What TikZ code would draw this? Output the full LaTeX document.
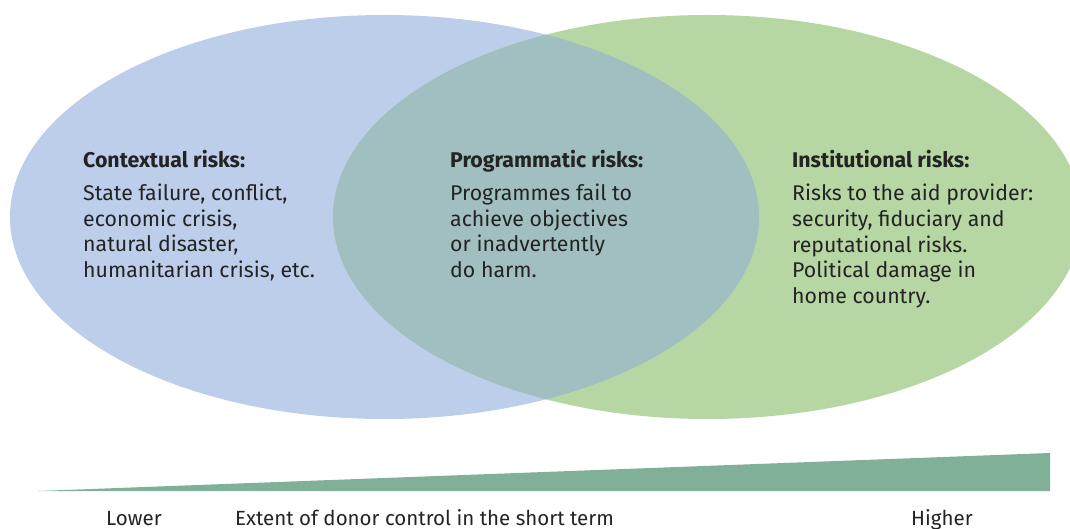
\documentclass[tikz,border=0pt]{standalone}
\usepackage{fontspec}
\setmainfont{Fira Sans}
\definecolor{blueE}{RGB}{189,206,234}
\definecolor{greenE}{RGB}{182,215,163}
\definecolor{overlapE}{RGB}{161,191,193}
\definecolor{wedgeC}{RGB}{128,176,152}
\definecolor{txt}{RGB}{35,35,35}
\tikzset{
  blocktext/.style={anchor=base west, inner sep=0pt, align=left, text=txt,
    font=\fontsize{21.3}{25.7}\selectfont},
  axislabel/.style={anchor=base west, inner sep=0pt, text=txt,
    font=\fontsize{20.5}{24}\selectfont}
}
\begin{document}
\begin{tikzpicture}[x=1pt,y=-1pt]
\useasboundingbox (0,0) rectangle (1070,529);
\clip (0,0) rectangle (1070,529);
% ellipses
\fill[blueE] (384.5,217) ellipse [x radius=374.5, y radius=202];
\fill[greenE] (707.5,217) ellipse [x radius=374.5, y radius=202];
\begin{scope}
  \clip (384.5,217) ellipse [x radius=374.5, y radius=202];
  \fill[overlapE] (707.5,217) ellipse [x radius=374.5, y radius=202];
\end{scope}
% texts
\node[blocktext] (ctx) at (83,277.5) {\textbf{Contextual risks:}\\[7.3pt]
State failure, conflict,\\economic crisis,\\natural disaster,\\humanitarian crisis, etc.};
\node[blocktext] (prg) at (450,277.5) {\textbf{Programmatic risks:}\\[7.3pt]
Programmes fail to\\achieve objectives\\or inadvertently\\do harm.};
\node[blocktext] (ins) at (792,303.5) {\textbf{Institutional risks:}\\[7.3pt]
Risks to the aid provider:\\security, fiduciary and\\reputational risks.\\Political damage in\\home country.};
% wedge
\coordinate (wl) at (38,491);
\coordinate (wt) at (1050,453);
\coordinate (wb) at (1050,491);
\fill[wedgeC] (wl) -- (wt) -- (wb) -- cycle;
% axis labels
\node[axislabel] (lower) at (106,525.5) {Lower};
\node[axislabel] (ext) at (235,525.5) {Extent of donor control in the short term};
\node[axislabel] (higher) at (911,525.5) {Higher};
\end{tikzpicture}
\end{document}
